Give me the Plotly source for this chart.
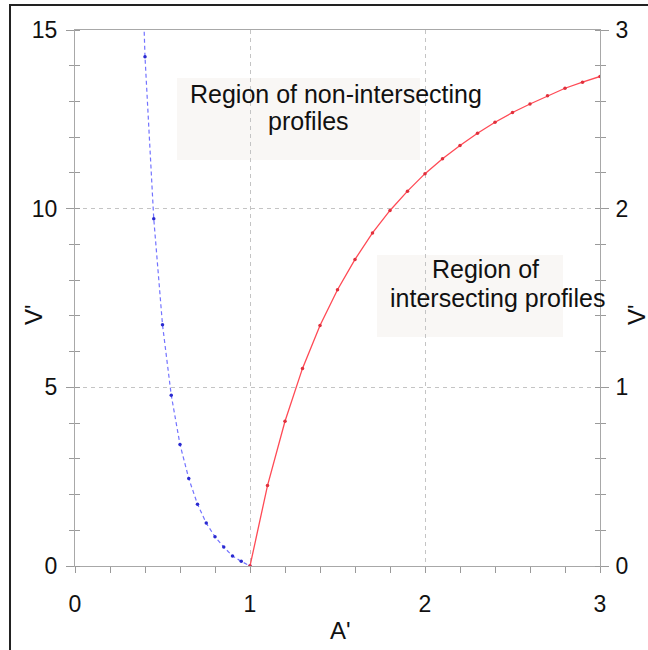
import plotly.graph_objects as go

# ---- data ----
blue_A = [0.35, 0.40, 0.45, 0.50, 0.55, 0.60, 0.65, 0.70, 0.75, 0.80, 0.85, 0.90, 0.95, 1.00]
blue_V = [22.0, 14.25, 9.72, 6.75, 4.78, 3.40, 2.45, 1.73, 1.20, 0.82, 0.53, 0.28, 0.13, 0.0]

red_A = [1.0, 1.1, 1.2, 1.3, 1.4, 1.5, 1.6, 1.7, 1.8, 1.9, 2.0,
         2.1, 2.2, 2.3, 2.4, 2.5, 2.6, 2.7, 2.8, 2.9, 3.0]
red_V = [0.0, 0.45, 0.81, 1.106, 1.346, 1.546, 1.716, 1.864, 1.99, 2.098, 2.196,
         2.28, 2.354, 2.422, 2.484, 2.538, 2.586, 2.632, 2.674, 2.708, 2.74]

x_ticks = [0, 1, 2, 3]
y_ticks = [0, 5, 10, 15]
y2_ticks = [0, 1, 2, 3]

FONT = "Liberation Sans, Arial, Helvetica, sans-serif"
AXC = "#a8a8a8"
TKC = "#9a9a9a"
GRID = "#c4c4c4"

fig = go.Figure()
fig.add_trace(go.Scatter(
    x=blue_A, y=blue_V, mode="lines+markers", yaxis="y",
    line=dict(color="rgba(80,80,255,0.8)", width=1.2, dash="4px,3px"),
    marker=dict(color="#2a2ad0", size=3.5), showlegend=False, cliponaxis=True))
fig.add_trace(go.Scatter(
    x=red_A, y=red_V, mode="lines+markers", yaxis="y2",
    line=dict(color="#ff4a55", width=1.3),
    marker=dict(color="#e0303c", size=3.5), showlegend=False))
# empty traces to activate overlay tick axes
fig.add_trace(go.Scatter(x=[], y=[], yaxis="y3", showlegend=False))
fig.add_trace(go.Scatter(x=[], y=[], yaxis="y4", showlegend=False))

tickfont = dict(family=FONT, size=23, color="#111")

fig.update_layout(
    width=648, height=650,
    margin=dict(l=75, r=48, t=30, b=84),
    paper_bgcolor="white", plot_bgcolor="white",
    font=dict(family=FONT, color="#111"),
    xaxis=dict(
        range=[0, 3], tickvals=x_ticks, ticktext=[str(v) for v in x_ticks],
        showline=True, linecolor=AXC, linewidth=1, mirror=True,
        ticks="outside", ticklen=6, tickcolor=TKC,
        minor=dict(dtick=0.2, ticks="outside", ticklen=6, tickcolor=TKC, showgrid=False),
        showgrid=True, gridcolor=GRID, griddash="4px,4px", gridwidth=1,
        zeroline=False, tickfont=tickfont, ticklabelstandoff=11,
    ),
    yaxis=dict(
        range=[0, 15], tickvals=y_ticks, ticktext=[str(v) for v in y_ticks],
        showline=True, linecolor=AXC, linewidth=1,
        ticks="outside", ticklen=8, tickcolor=TKC,
        minor=dict(dtick=1, ticks="outside", ticklen=5, tickcolor=TKC, showgrid=False),
        showgrid=True, gridcolor=GRID, griddash="4px,4px", gridwidth=1,
        zeroline=False, tickfont=tickfont, ticklabelstandoff=4,
    ),
    yaxis2=dict(
        range=[0, 3], tickvals=y2_ticks, ticktext=[str(v) for v in y2_ticks],
        overlaying="y", side="right", anchor="x",
        showline=True, linecolor=AXC, linewidth=1,
        ticks="outside", ticklen=8, tickcolor=TKC,
        minor=dict(dtick=0.2, ticks="outside", ticklen=5, tickcolor=TKC, showgrid=False),
        showgrid=False, zeroline=False, tickfont=tickfont, ticklabelstandoff=2,
    ),
    yaxis3=dict(
        range=[0, 15], overlaying="y", side="left", anchor="x",
        showline=False, showticklabels=False, showgrid=False, zeroline=False,
        tickvals=y_ticks, ticks="",
        minor=dict(dtick=1, ticks="inside", ticklen=5, tickcolor=TKC, showgrid=False),
    ),
    yaxis4=dict(
        range=[0, 3], overlaying="y", side="right", anchor="x",
        showline=False, showticklabels=False, showgrid=False, zeroline=False,
        tickvals=y2_ticks, ticks="",
        minor=dict(dtick=0.2, ticks="inside", ticklen=5, tickcolor=TKC, showgrid=False),
    ),
)

BOX = "#f9f7f5"
shapes = [
    dict(type="rect", xref="x", yref="y", x0=0.583, x1=1.971, y0=11.36, y1=13.66,
         fillcolor=BOX, line=dict(width=0), layer="below"),
    dict(type="rect", xref="x", yref="y", x0=1.726, x1=2.789, y0=6.41, y1=8.70,
         fillcolor=BOX, line=dict(width=0), layer="below"),
    # outer frame
    dict(type="rect", xref="paper", yref="paper", x0=-0.1238, x1=1.2, y0=-0.3, y1=1.0466,
         line=dict(color="#222", width=2), fillcolor="rgba(0,0,0,0)"),
]
fig.update_layout(shapes=shapes)

afont = dict(family=FONT, size=25, color="#111")
tfont = dict(family=FONT, size=24, color="#111")
annotations = [
    dict(x=1.494, y=13.22, xref="x", yref="y", text="Region of non-intersecting",
         showarrow=False, font=afont, xanchor="center", yanchor="middle"),
    dict(x=1.337, y=12.46, xref="x", yref="y", text="profiles",
         showarrow=False, font=afont, xanchor="center", yanchor="middle"),
    dict(x=2.343, y=8.30, xref="x", yref="y", text="Region of",
         showarrow=False, font=afont, xanchor="center", yanchor="middle"),
    dict(x=2.417, y=7.50, xref="x", yref="y", text="intersecting profiles",
         showarrow=False, font=afont, xanchor="center", yanchor="middle"),
    # axis titles
    dict(x=(340 - 75) / 525, y=(566 - 630) / 536, xref="paper", yref="paper", text="A'",
         showarrow=False, font=tfont, xanchor="center", yanchor="middle"),
    dict(x=(33 - 75) / 525, y=(566 - 315) / 536, xref="paper", yref="paper", text="V'",
         showarrow=False, font=tfont, xanchor="center", yanchor="middle", textangle=-90),
    dict(x=(636 - 75) / 525, y=(566 - 315) / 536, xref="paper", yref="paper", text="V'",
         showarrow=False, font=tfont, xanchor="center", yanchor="middle", textangle=-90),
]
fig.update_layout(annotations=annotations)

fig.write_html(
    "out.html",
    config={"displayModeBar": False},
    post_script="document.body.style.margin='0';document.body.style.overflow='hidden';",
)
